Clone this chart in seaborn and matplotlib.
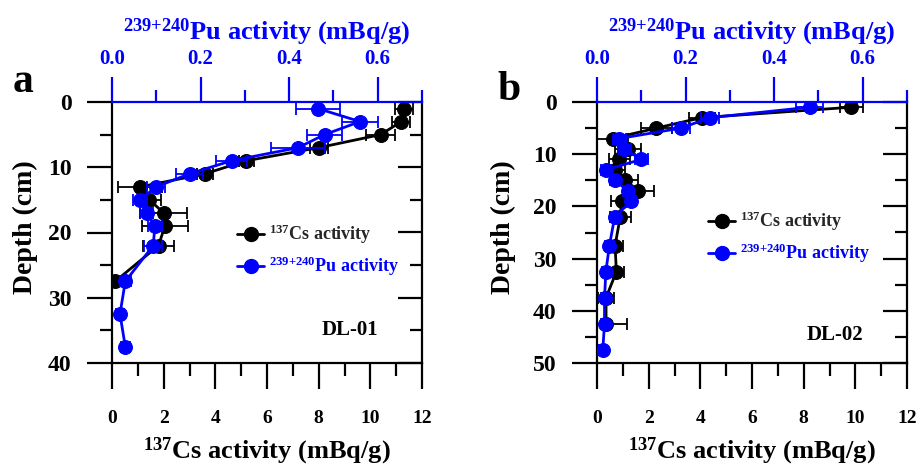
import matplotlib
matplotlib.use("Agg")
import matplotlib.pyplot as plt
from matplotlib.ticker import MultipleLocator
from matplotlib.lines import Line2D
import seaborn as sns

# ---- DL-01 (panel a) ----
depth_cs_a = [1, 3, 5, 7, 9, 11, 13, 15, 17, 19, 22, 27.5]
cs_a = [11.3, 11.2, 10.4, 8.0, 5.2, 3.6, 1.1, 1.45, 2.0, 2.05, 1.8, 0.12]
cs_err_a = [0.35, 0.35, 0.55, 0.35, 0.3, 0.3, 0.85, 0.45, 0.9, 0.9, 0.6, 0.3]

depth_pu_a = [1, 3, 5, 7, 9, 11, 13, 15, 17, 19, 22, 27.5, 32.5, 37.5]
pu_a = [0.465, 0.56, 0.48, 0.42, 0.27, 0.175, 0.10, 0.063, 0.078, 0.097, 0.093, 0.03, 0.018, 0.03]
pu_err_a = [0.05, 0.04, 0.04, 0.06, 0.035, 0.03, 0.02, 0.015, 0.015, 0.015, 0.02, 0.012, 0.01, 0.01]

# ---- DL-02 (panel b) ----
depth_cs_b = [1, 3, 5, 7, 9, 11, 13, 15, 17, 19, 22, 27.5, 32.5, 37.5, 42.5]
cs_b = [9.85, 4.05, 2.3, 0.6, 1.2, 0.87, 0.7, 1.1, 1.6, 0.95, 0.9, 0.7, 0.75, 0.35, 0.35]
cs_err_b = [0.45, 0.5, 0.6, 0.6, 0.5, 0.4, 0.4, 0.5, 0.6, 0.4, 0.4, 0.3, 0.3, 0.3, 0.8]

depth_pu_b = [1, 3, 5, 7, 9, 11, 13, 15, 17, 19, 22, 27.5, 32.5, 37.5, 42.5, 47.5]
pu_b = [0.48, 0.255, 0.19, 0.05, 0.062, 0.10, 0.02, 0.04, 0.07, 0.077, 0.04, 0.028, 0.02, 0.017, 0.017, 0.013]
pu_err_b = [0.03, 0.02, 0.02, 0.015, 0.015, 0.015, 0.01, 0.01, 0.012, 0.012, 0.01, 0.01, 0.008, 0.008, 0.008, 0.008]

cs_label = r"$^{137}$Cs activity"
pu_label = r"$^{239{+}240}$Pu activity"

sns.set_style("ticks")
plt.rcParams.update({
    "font.family": "Liberation Serif",
    "font.weight": "bold",
    "axes.labelweight": "bold",
    "mathtext.fontset": "custom",
    "mathtext.rm": "Liberation Serif:bold",
    "mathtext.bf": "Liberation Serif:bold",
    "mathtext.it": "Liberation Serif:bold:italic",
    "mathtext.default": "bf",
})

W, H = 919, 468
fig = plt.figure(figsize=(W / 100, H / 100), dpi=100)


def panel(left_px, depth_cs, cs, cs_err, depth_pu, pu, pu_err, ymax, name, name_xy,
          letter, letter_xy, ylab_x, leg_xy):
    ax = fig.add_axes([left_px / W, 105 / H, 310 / W, 261 / H])
    sns.lineplot(x=cs, y=depth_cs, orient="y", sort=False, estimator=None, color="black",
                 marker="o", markersize=10, markeredgecolor="black", linewidth=2, ax=ax)
    ax.errorbar(cs, depth_cs, xerr=cs_err, fmt="none", ecolor="black",
                elinewidth=1.3, capsize=4, capthick=1.3)

    tw = ax.twiny()
    sns.lineplot(x=pu, y=depth_pu, orient="y", sort=False, estimator=None, color="blue",
                 marker="o", markersize=10, markeredgecolor="blue", linewidth=2, ax=tw)
    tw.errorbar(pu, depth_pu, xerr=pu_err, fmt="none", ecolor="blue",
                elinewidth=1.3, capsize=4, capthick=1.3)

    ax.set_xlim(0, 12)
    tw.set_xlim(0, 0.7)
    ax.set_ylim(ymax, 0)
    ax.xaxis.set_major_locator(MultipleLocator(2))
    ax.xaxis.set_minor_locator(MultipleLocator(1))
    tw.xaxis.set_major_locator(MultipleLocator(0.2))
    tw.xaxis.set_minor_locator(MultipleLocator(0.1))
    ax.yaxis.set_major_locator(MultipleLocator(10))
    ax.yaxis.set_minor_locator(MultipleLocator(5))

    for sp in ["top", "right"]:
        ax.spines[sp].set_visible(False)
    for sp in ["left", "bottom"]:
        ax.spines[sp].set_linewidth(1.6)
        ax.spines[sp].set_color("black")
        tw.spines[sp].set_visible(False)
    tw.spines["right"].set_linewidth(1.6)
    tw.spines["right"].set_color("black")
    tw.spines["top"].set_linewidth(1.6)
    tw.spines["top"].set_color("blue")

    ax.tick_params(axis="y", which="both", left=True, right=False, direction="out",
                   width=1.6, colors="black", labelsize=17, pad=11)
    ax.tick_params(axis="y", which="major", length=18)
    ax.tick_params(axis="y", which="minor", length=9)
    ax.tick_params(axis="x", which="both", bottom=True, top=False, direction="out",
                   width=1.6, colors="black", labelsize=14, pad=15)
    ax.tick_params(axis="x", which="major", length=19)
    ax.tick_params(axis="x", which="minor", length=9)

    tw.tick_params(axis="x", which="both", top=True, bottom=False, direction="out",
                   width=1.6, colors="blue", labelsize=15, pad=6)
    tw.tick_params(axis="x", which="major", length=18)
    tw.tick_params(axis="x", which="minor", length=9)

    tw.yaxis.set_visible(True)
    tw.tick_params(axis="y", which="both", left=False, right=True, labelleft=False,
                   labelright=False, direction="in", width=1.6, colors="black")
    tw.tick_params(axis="y", which="major", length=17)
    tw.tick_params(axis="y", which="minor", length=9)
    tw.set_ylabel("")

    ax.set_xlabel(r"$^{137}$Cs activity (mBq/g)", fontsize=19, color="black")
    ax.xaxis.set_label_coords(0.5, -0.28)
    tw.set_xlabel(r"$^{239{+}240}$Pu activity (mBq/g)", fontsize=19, color="blue")
    tw.xaxis.set_label_coords(0.5, 1.24)
    ax.set_ylabel("Depth (cm)", fontsize=20, color="black")
    ax.yaxis.set_label_coords(ylab_x, 0.52)

    handles = [
        Line2D([], [], color="black", marker="o", markersize=10, linewidth=2),
        Line2D([], [], color="blue", marker="o", markersize=10, linewidth=2),
    ]
    leg = tw.legend(handles, [cs_label, pu_label], loc="upper left",
                    bbox_to_anchor=(leg_xy[0] / W, 1 - leg_xy[1] / H),
                    bbox_transform=fig.transFigure, frameon=False, fontsize=13,
                    handlelength=1.5, handletextpad=0.25, labelspacing=0.45,
                    borderpad=0, borderaxespad=0)
    leg.get_texts()[1].set_color("blue")

    fig.text(name_xy[0] / W, 1 - name_xy[1] / H, name, fontsize=15, ha="center",
             va="center", color="black")
    fig.text(letter_xy[0] / W, 1 - letter_xy[1] / H, letter, fontsize=30, ha="center",
             va="baseline", color="black")


panel(112, depth_cs_a, cs_a, cs_err_a, depth_pu_a, pu_a, pu_err_a, 40, "DL-01", (350, 330),
      "a", (23, 92), -0.24, (237, 223))
panel(597, depth_cs_b, cs_b, cs_err_b, depth_pu_b, pu_b, pu_err_b, 50, "DL-02", (835, 335),
      "b", (509, 100), -0.26, (708, 210))

fig.savefig("out.png", dpi=100)
